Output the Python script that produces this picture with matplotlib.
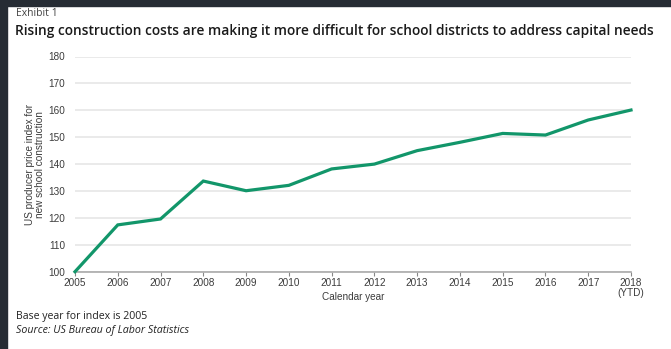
import matplotlib
matplotlib.use("Agg")
import matplotlib.pyplot as plt
import matplotlib.patches as mpatches

# Producer price index for new school construction (2005 = 100)
years = ['2005', '2006', '2007', '2008', '2009', '2010', '2011', '2012',
         '2013', '2014', '2015', '2016', '2017', '2018\n(YTD)']
ppi = [100, 117.4, 119.6, 133.7, 130.1, 132.1, 138.2, 140.0,
       145.0, 148.1, 151.4, 150.8, 156.4, 160.1]
y_ticks = [100, 110, 120, 130, 140, 150, 160, 170, 180]

W, H = 671, 349
fig = plt.figure(figsize=(W / 100, H / 100), dpi=100, facecolor='white')

# dark frame strips along the top and left edges
frame = '#262c34'
fig.patches.append(mpatches.Rectangle((0, 1 - 6 / H), 1, 6 / H, transform=fig.transFigure,
                                      color=frame, zorder=0))
fig.patches.append(mpatches.Rectangle((0, 0), 7 / W, 1, transform=fig.transFigure,
                                      color=frame, zorder=0))

left, right = 75 / W, 631 / W
bottom, top = 1 - 271.7 / H, 1 - 56.5 / H
ax = fig.add_axes([left, bottom, right - left, top - bottom])

tick_font = dict(fontsize=7.2, color='#3c3c3c', family='Liberation Sans')

x = range(len(years))
ax.plot(x, ppi, color='#12966a', linewidth=2.3, solid_joinstyle='miter', zorder=3,
        clip_on=False)

ax.set_xlim(0, len(years) - 1)
ax.set_ylim(100, 180)
ax.set_yticks(y_ticks)
ax.set_xticks(list(x))
ax.set_xticklabels(years, linespacing=1.05, **tick_font)
ax.set_yticklabels([str(t) for t in y_ticks], **tick_font)

ax.grid(axis='y', color='#e6e6e6', linewidth=1.2)
ax.set_axisbelow(True)
for s in ['top', 'right', 'left']:
    ax.spines[s].set_visible(False)
ax.spines['bottom'].set_color('#aaaaaa')
ax.spines['bottom'].set_linewidth(1.2)
ax.tick_params(axis='x', length=3, color='#888888', pad=1.5)
ax.tick_params(axis='y', length=0, pad=7)

fig.text((left + right) / 2, 1 - 297 / H, 'Calendar year', ha='center', va='center',
         **tick_font)
fig.text(35 / W, 1 - 165 / H, 'US producer price index for\nnew school construction',
         rotation=90, ha='center', va='center', linespacing=1.0, **tick_font)

# titles
fig.text(16 / W, 1 - 14 / H, 'Exhibit 1', fontsize=7.5, color='#444444',
         family='Open Sans', va='center')
fig.text(15 / W, 1 - 31 / H,
         'Rising construction costs are making it more difficult for school districts to address capital needs',
         fontsize=9.95, color='#1a1a1a', family='Open Sans', fontweight='semibold',
         va='center')

# footnotes
fig.text(16 / W, 1 - 316 / H, 'Base year for index is 2005', fontsize=7.6,
         color='#222222', family='Open Sans', va='center')
fig.text(16 / W, 1 - 331 / H, 'Source: US Bureau of Labor Statistics', fontsize=7.7,
         color='#222222', family='Open Sans', style='italic', va='center')

fig.savefig('out.png', dpi=100, facecolor='white')
